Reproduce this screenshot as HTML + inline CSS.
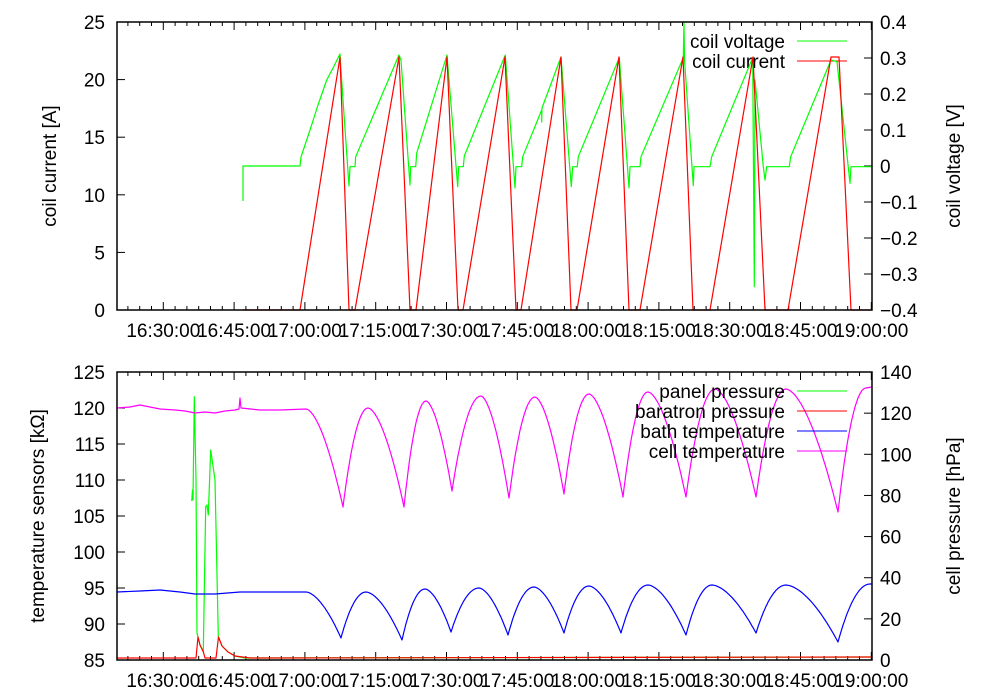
<!DOCTYPE html>
<html><head><meta charset="utf-8"><style>
html,body{margin:0;padding:0;background:#fff;}
svg{display:block;font-family:"Liberation Sans",sans-serif;}
</style></head><body>
<svg id="s" width="1000" height="700" xmlns="http://www.w3.org/2000/svg">
<rect width="1000" height="700" fill="#fff"/>
<g id="g"></g>
</svg>
<script>
var g=document.getElementById('g');var h='';
function line(x1,y1,x2,y2,c,w){h+='<line x1="'+x1+'" y1="'+y1+'" x2="'+x2+'" y2="'+y2+'" stroke="'+(c||'#000')+'" stroke-width="'+(w||1)+'"/>';}
function txt(x,y,s,a,extra){h+='<text x="'+x+'" y="'+y+'" font-size="19" text-anchor="'+(a||'start')+'" '+(extra||'')+'>'+s+'</text>';}
function poly(pts,c){h+='<polyline fill="none" stroke="'+c+'" stroke-width="1.2" stroke-linejoin="round" points="'+pts.map(function(p){return p[0].toFixed(1)+','+p[1].toFixed(1)}).join(' ')+'"/>';}
var L=117,R=872;
var T1=22,B1=310,T2=372,B2=660;
var t0=163.3,st=70.8;
var labels=['16:30:00','16:45:00','17:00:00','17:15:00','17:30:00','17:45:00','18:00:00','18:15:00','18:30:00','18:45:00','19:00:00'];
function xticks(T,B,ly){
  for(var i=-1;i<11;i++){for(var k=0;k<6;k++){var x=t0+i*st+k*st/6;if(x<=L+0.5||x>=R-0.5)continue;var len=k==0?8:4;line(x,B,x,B-len);line(x,T,x,T+len);}}
  for(var i=0;i<11;i++)txt(t0+i*st,ly,labels[i],'middle');
}
xticks(T1,B1,337);
for(var i=0;i<=5;i++){var y=B1-i*57.6;if(i>0&&i<5)line(L,y,L+8,y);txt(105,y+7,String(i*5),'end');}
var r=['-0.4','-0.3','-0.2','-0.1','0','0.1','0.2','0.3','0.4'];
for(var i=0;i<=8;i++){var y=B1-i*36;if(i>0&&i<8)line(R,y,R-8,y);txt(880,y+7,r[i].replace('-','\u2212'),'start');}
txt(56,166,'coil current [A]','middle','transform="rotate(-90 56 166)"');
txt(960,166,'coil voltage [V]','middle','transform="rotate(-90 960 166)"');
txt(785,48,'coil voltage','end');line(797,41,847,41,'#00ff00');
txt(785,68,'coil current','end');line(797,61,847,61,'#ff0000');
var green=[[243,201],[243,166],[300,166],[301,157],[310,130],[318,105],[326.7,80],[333,68],[340,54],[343,100],[349,186],[350,166.7],[355,166.7],[355.7,156.7],[399,55],[401,60],[410,185],[410.7,166.7],[415.7,166.7],[416.7,153],[447,55],[457.7,186.7],[458.7,166.7],[463.3,166.7],[464.3,156],[505.3,55],[515,188],[516,166.7],[521.7,166.7],[522.7,156.7],[541.7,110],[541.7,122],[542,108],[561,57],[571.3,186.7],[572.7,166.7],[577.3,166.7],[578.3,156.7],[619.3,57.7],[629,188],[630,166.7],[640,166.7],[641,156.7],[683.3,57.7],[684,22],[684.5,60],[693.3,185.7],[694,166.7],[710,166.7],[711.7,156.7],[752.7,57.7],[754.3,286.7],[755,80],[763.3,166.7],[765,180],[766.7,166.7],[789.3,166.7],[790.7,156.7],[831,60],[837,61.7],[850,183.3],[851,166.7],[872,166.7]];
poly(green,'#00ff00');
var red=[[243,310],[300,310],[340,57],[349,310],[355,310],[399,57],[410,310],[416,310],[447,57],[458,310],[463,310],[505,57],[516,310],[521,310],[561,57],[571,310],[577,310],[619,57],[629,310],[640,310],[683,57],[693,310],[710,310],[753,57],[765,310],[788,310],[831,57],[839,57],[851,310],[872,310]];
poly(red,'#ff0000');
h+='<rect x="'+L+'" y="'+T1+'" width="'+(R-L)+'" height="'+(B1-T1)+'" fill="none" stroke="#000" stroke-width="1.5"/>';
xticks(T2,B2,687);
for(var i=0;i<=8;i++){var y=B2-i*36;if(i>0&&i<8)line(L,y,L+8,y);txt(105,y+7,String(85+i*5),'end');}
for(var i=0;i<=7;i++){var y=B2-i*41.14;if(i>0&&i<7)line(R,y,R-8,y);txt(880,y+7,String(i*20),'start');}
txt(44,516,'temperature sensors [k\u03A9]','middle','transform="rotate(-90 44 516)"');
txt(960,516,'cell pressure [hPa]','middle','transform="rotate(-90 960 516)"');
function cusp(start,ext){
  var pts=[start];var prev=start;var down=true;
  for(var j=0;j<ext.length;j++){var p=ext[j];var n=24;
    for(var k=1;k<=n;k++){var t=k/n;var f=down?Math.pow(t,1.7):1-Math.pow(1-t,2);pts.push([prev[0]+(p[0]-prev[0])*t,prev[1]+(p[1]-prev[1])*f]);}
    prev=p;down=!down;}
  return pts;}
var mag=[[117,408],[130,407],[140,405],[150,407],[160,409],[175,410],[185,411],[195,413],[205,412],[215,413],[225,411],[235,410],[239,409],[240,398],[241,408],[260,410],[280,410],[306,409]];
mag=mag.concat(cusp([306,409],[[343,507],[368,408],[404,507],[426,401],[452,491],[481,396],[509,498],[535,397],[564,494],[589,394],[623,497],[648,392],[686,497],[715,389],[756,497],[786,389],[838,512],[866,388]]).slice(1));
mag.push([872,387]);
var blue=[[117,592],[140,591],[160,590],[180,592],[195,594],[215,594],[240,592],[306,592]];
blue=blue.concat(cusp([306,592],[[341,638],[366,592],[402,640],[425,589],[451,632],[479,588],[508,635],[534,587],[564,633],[589,586],[621,633],[648,585],[686,635],[712,585],[756,633],[786,585],[838,642],[870,584]]).slice(1));
blue.push([872,584]);
var bred=[[117,658],[196,658],[198,637],[200,645],[203.3,651.7],[205,658],[216,658],[218.5,637],[222,646],[228,652],[235,656],[250,658],[872,657]];
var bgreen=[[191.7,501],[192.5,490],[193,500],[194.3,396.7],[196,480],[197,633],[200,645],[203.3,651.7],[205.7,506.7],[207,505],[208.3,515],[210.7,450],[215,480],[218.3,636.7],[222,646],[228,652],[235,656],[245,658],[872,657]];
poly(bgreen,'#00ff00');
poly(bred,'#ff0000');
poly(blue,'#0000ff');
poly(mag,'#ff00ff');
var ln=['panel pressure','baratron pressure','bath temperature','cell temperature'],lc=['#00ff00','#ff0000','#0000ff','#ff00ff'];
for(var i=0;i<4;i++){var y=391+i*20;txt(785,y+7,ln[i],'end');line(797,y,847,y,lc[i]);}
h+='<rect x="'+L+'" y="'+T2+'" width="'+(R-L)+'" height="'+(B2-T2)+'" fill="none" stroke="#000" stroke-width="1.5"/>';
g.innerHTML=h;
</script>
</body></html>
